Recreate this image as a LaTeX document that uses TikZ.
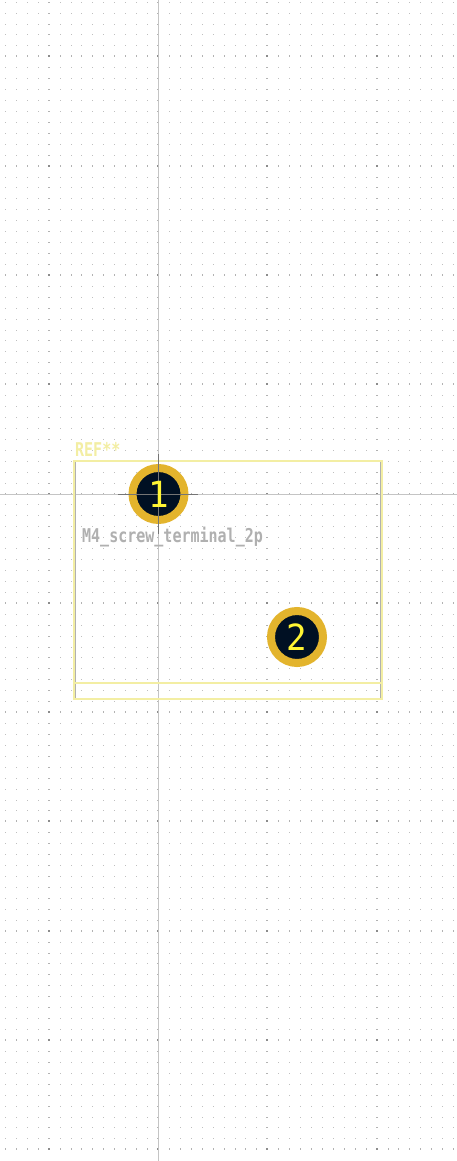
\documentclass[tikz,border=0pt]{standalone}
\usepackage{fontspec}
\setmonofont{DejaVu Sans Mono}
\usepackage{xcolor}
\definecolor{silk}{HTML}{F3EEA3}
\definecolor{axisgray}{HTML}{C4C4C4}
\definecolor{crossgray}{HTML}{757575}
\definecolor{padgold}{HTML}{E3B42D}
\definecolor{holeblue}{HTML}{001023}
\definecolor{valgray}{HTML}{B0B0B0}
\tikzset{
  pad/.style={circle, draw=padgold, line width=8pt, fill=holeblue,
    minimum size=52pt, inner sep=0pt},
  padnum/.style={inner sep=0pt, text=yellow!80!white, transform shape, xscale=0.95,
    font=\fontsize{36}{36}\selectfont\ttfamily},
  silkline/.style={draw=silk, line width=2.2pt},
  fptext/.style={anchor=base west, inner sep=0pt, xscale=0.79, transform shape,
    font=\fontsize{19}{19}\selectfont\ttfamily\bfseries},
}
\begin{document}
\begin{tikzpicture}[x=1pt, y=-1pt]
\useasboundingbox (0,0) rectangle (457,1161);
\fill [white] (0,0) rectangle (457,1161);

% grid
\foreach \row in {-45,...,60} {
  \foreach \col in {-14,...,27} {
    \pgfmathsetmacro{\px}{floor(158.5+10.93*\col)}
    \pgfmathsetmacro{\py}{floor(494+10.93*\row)}
    \pgfmathtruncatemacro{\mc}{mod(\col+140,10)==0}
    \pgfmathtruncatemacro{\mr}{mod(\row+140,10)==0}
    \ifnum\mc\mr=11
      \fill [black!45] (\px-1,\py-1) rectangle (\px+1.4,\py+1.4);
    \else\ifnum\mr=1
      \fill [black!30] (\px,\py-1) rectangle (\px+1,\py+1.4);
    \else\ifnum\mc=1
      \fill [black!30] (\px-1,\py) rectangle (\px+1.4,\py+1);
    \else
      \fill [black!25] (\px,\py) rectangle (\px+1,\py+1);
    \fi\fi\fi
  }
}

% axes
\draw [axisgray, line width=1pt] (158.5,0) -- (158.5,1161);
\draw [axisgray, line width=1pt] (0,494) -- (457,494);

% outline
\draw [valgray, line width=1pt] (75.7,461) -- (75.7,698.7);
\draw [valgray, line width=1pt] (380.3,461) -- (380.3,698.7);
\draw [silkline] (74.2,461) rectangle (381.7,698.7);
\draw [silkline] (74.2,683) -- (381.7,683);

% pads
\node (pad1) [pad] at (158.5,494) {};
\node (pad2) [pad] at (297,637) {};
\draw [crossgray, line width=1pt] (118,494) -- (198,494);
\draw [crossgray, line width=1pt] (158.5,454) -- (158.5,534);
\node (num1) [padnum] at (pad1.center) {1};
\node (num2) [padnum] at (pad2.center) {2};

% texts
\node (refname) [fptext, text=silk] at (75,456) {REF**};
\node (valname) [fptext, text=valgray] at (82,542) {M4\_screw\_terminal\_2p};
\end{tikzpicture}
\end{document}
